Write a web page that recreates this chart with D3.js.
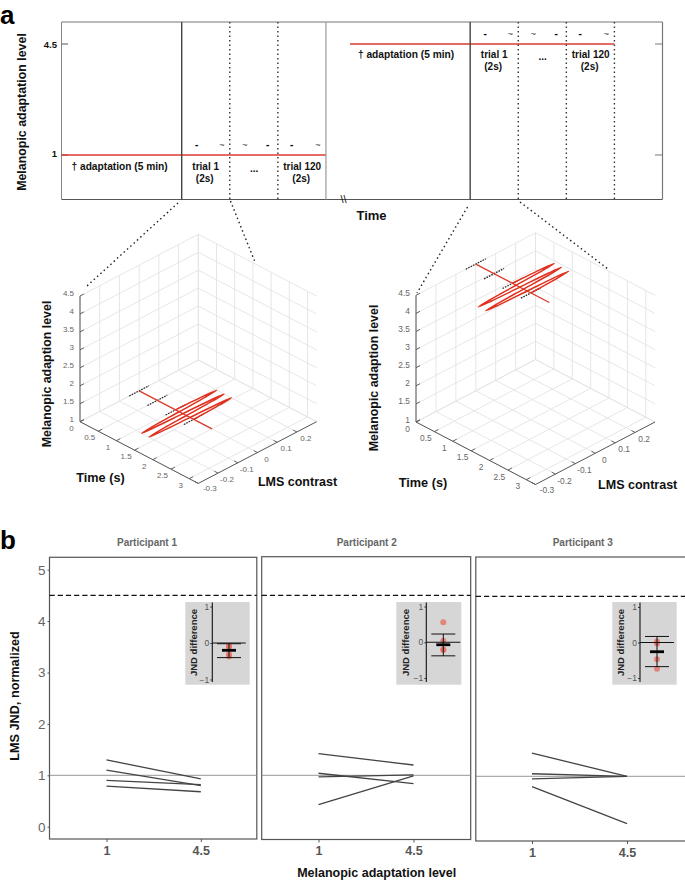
<!DOCTYPE html>
<html>
<head>
<meta charset="utf-8">
<script src="https://cdn.jsdelivr.net/npm/d3@7"></script>
<style>
	body { margin: 0; background: #fff; }
	text { font-family: "Liberation Sans", Arial, sans-serif; }
</style>
</head>
<body>
<div id="chart"></div>
<script>

// panel a: schedule, in schematic time units
let adaptStart		= [0, 288],
	trialStart		= [120, 408],
	trialBounds		= [48, 96, 144],
	levels			= [1, 4.5],
	levelLabels		= ["1", "4.5"],
	stimulusOffsets	= [15, 40, 63, 86, 110, 136],
	stimulusGlyphs	= ["-", "~", "~", "-", "-", "~"];

// panel a: 3D axes
let timeTicks		= [0, 0.5, 1, 1.5, 2, 2.5, 3],
	contrastTicks	= [-0.3, -0.2, -0.1, 0, 0.1, 0.2, 0.3],
	contrastLabels	= [-0.3, -0.2, -0.1, 0, 0.1, 0.2],
	levelTicks		= [1, 1.5, 2, 2.5, 3, 3.5, 4, 4.5];

// panel a: one trial, stimulus trace
let baselineTime	= [0, 2],
	baselineContrast= [0, 0],
	flickerTime		= [1, 1.025, 1.05, 1.075, 1.1, 1.125, 1.15, 1.175, 1.2, 1.225, 1.25, 1.275, 1.3, 1.325, 1.35, 1.375, 1.4, 1.425, 1.45, 1.475, 1.5],
	flickerContrast	= [0, 0.14, 0.2, 0.14, 0, -0.14, -0.2, -0.14, 0, 0.14, 0.2, 0.14, 0, -0.14, -0.2, -0.14, 0, 0.14, 0.2, 0.14, 0],
	referenceTimes	= [0, 0.5, 1, 1.5],
	referenceHalf	= 0.05;

// panel b
let participants	= ["Participant 1", "Participant 2", "Participant 3"],
	jndLow			= [[1.30, 1.10, 0.90, 0.79], [1.42, 1.04, 0.97, 0.43], [1.45, 1.05, 0.95, 0.80]],
	jndHigh			= [[0.93, 0.80, 0.82, 0.68], [1.20, 0.84, 1.01, 0.99], [1.00, 1.00, 1.00, 0.08]],
	jndTicks		= [0, 1, 2, 3, 4, 5],
	diffPoints		= [[-0.37, -0.30, -0.08, -0.11], [-0.22, -0.20, 0.04, 0.56], [-0.47, -0.03, 0.03, -0.74]],
	diffMean		= [-0.20, -0.07, -0.26],
	diffUpper		= [-0.02, 0.23, 0.17],
	diffLower		= [-0.40, -0.38, -0.68],
	diffTicks		= [-1, 0, 1];

let svg = d3.select("#chart")
	.append("svg")
		.attr("width", 685)
		.attr("height", 882);

function label (x, y, txt, size, opts) {
	opts = opts || {};
	let t = svg.append("text")
		.attr("x", x)
		.attr("y", y)
		.attr("text-anchor", opts.anchor || "middle")
		.attr("dominant-baseline", "central")
		.attr("font-size", size)
		.attr("font-weight", opts.weight || "bold")
		.attr("fill", opts.fill || "#111")
		.text(txt);
	if (opts.rotate) {
		t.attr("transform", "rotate(-90," + x + "," + y + ")");
	}
	return t;
}

function seg (x1, y1, x2, y2, color, width, dash) {
	return svg.append("line")
		.attr("x1", x1).attr("y1", y1)
		.attr("x2", x2).attr("y2", y2)
		.attr("stroke", color)
		.attr("stroke-width", width)
		.attr("stroke-dasharray", dash || null);
}

// panel a, schedule /////////////////////////////////////////////////

function drawSchedule () {

	let xTime = d3.scaleLinear().domain([0, 600]).range([61.5, 662.5]),
		yLevel = d3.scaleLinear().domain([1, 4.5]).range([155, 44]);

	let top = 22, bottom = 199.5;

	label(0, 15, "a", 26, {anchor: "start", fill: "#000"});

	seg(xTime(0), top, xTime(600), top, "#777", 1.2);
	seg(xTime(0), bottom, xTime(600), bottom, "#555", 1.2);
	seg(xTime(0), top, xTime(0), bottom, "#888", 1);
	seg(xTime(600), top, xTime(600), bottom, "#777", 1.2);

	label(22, 112, "Melanopic adaptation level", 12.4, {rotate: true});
	label(371.5, 215, "Time", 13);
	label(343.5, 198.5, "\\\\", 11, {weight: "normal"});

	levels.forEach(function (lv, i) {
		seg(62, yLevel(lv), 68, yLevel(lv), "#555", 1);
		seg(655, yLevel(lv), 662, yLevel(lv), "#777", 1);
		label(57, yLevel(lv) - (i == 0 ? 2 : 0), levelLabels[i], 9.5, {anchor: "end"});
	});

	adaptStart.forEach(function (start, i) {

		let t0 = trialStart[i],
			yRed = yLevel(levels[i]),
			yText = yRed + 11 - (i == 1 ? 1 : 0);

		seg(xTime(start), yRed, xTime(t0 + trialBounds[2]), yRed, "#dc3b30", i == 0 ? 1.6 : 1.3);

		seg(xTime(t0), top, xTime(t0), bottom, "#444", 1.4);
		trialBounds.forEach(function (b, j) {
			if (i == 0 && j == 2) {
				seg(xTime(t0 + b), top, xTime(t0 + b), bottom, "#999", 1.2);
			} else {
				seg(xTime(t0 + b), top, xTime(t0 + b), bottom, "#333", 1.4, "1.5 3");
			}
		});

		stimulusOffsets.forEach(function (off, j) {
			let isDash = stimulusGlyphs[j] == "-";
			label(xTime(t0) + off, yRed - (i == 0 ? 11 : 10.5), stimulusGlyphs[j], isDash ? 10 : 9.5,
				{weight: isDash ? "bold" : "normal", fill: isDash ? "#000" : "#444"});
		});

		label((xTime(start) + xTime(t0)) / 2 + (i == 0 ? -2 : -4) , yText, "† adaptation (5 min)", 10.2);
		label(xTime(t0) + 24, yText, "trial 1", 10);
		label(xTime(t0) + 23, yText + 12.5, "(2s)", 10);
		label(xTime(t0) + 72.5, yText + 2, "...", 10);
		label(xTime(t0) + 120.5, yText, "trial 120", 10);
		label(xTime(t0) + 119.5, yText + 12.5, "(2s)", 10);
	});

	// zoom connectors
	seg(178, 203, 87, 286, "#222", 1.4, "1.5 3");
	seg(230.5, 201, 255, 262, "#222", 1.4, "1.5 3");
	seg(467.5, 207, 417, 293, "#222", 1.4, "1.5 3");
	seg(520, 202, 608, 269, "#222", 1.4, "1.5 3");
}

// panel a, 3D trial plots ///////////////////////////////////////////

function draw3d (cfg) {

	let xT = d3.scaleLinear().domain([0, 3.25]).range([0, 1]),
		xC = d3.scaleLinear().domain([-0.3, 0.3]).range([0, 1]),
		yM = d3.scaleLinear().domain([1, 4.5]).range([0, cfg.h]);

	function project (t, c, m) {
		let a = xT(t), b = xC(c);
		return [
			cfg.ox + (a + b) * cfg.dx,
			cfg.oy + (a - b) * cfg.dy - yM(m)
		];
	}

	function edge (p, q, color, width, dash) {
		let a = project(p[0], p[1], p[2]),
			b = project(q[0], q[1], q[2]);
		return seg(a[0], a[1], b[0], b[1], color, width, dash);
	}

	let grid = "#e3e3e3", axis = "#555", tMax = 3.25, cMin = -0.3, cMax = 0.3;

	// walls and floor
	levelTicks.forEach(function (m) {
		edge([0, cMin, m], [0, cMax, m], grid, 0.9);
		edge([0, cMax, m], [tMax, cMax, m], grid, 0.9);
	});
	contrastTicks.forEach(function (c) {
		edge([0, c, 1], [tMax, c, 1], grid, 0.9);
		edge([0, c, 1], [0, c, 4.5], grid, 0.9);
	});
	timeTicks.forEach(function (t) {
		edge([t, cMin, 1], [t, cMax, 1], grid, 0.9);
		edge([t, cMax, 1], [t, cMax, 4.5], grid, 0.9);
	});

	// axes
	edge([0, cMin, 1], [0, cMin, 4.5], axis, 1);
	edge([0, cMin, 1], [tMax, cMin, 1], axis, 1);
	edge([tMax, cMin, 1], [tMax, cMax, 1], axis, 1);

	levelTicks.forEach(function (m) {
		edge([0, cMin, m], [0, cMin + 0.02, m], axis, 0.9);
		let p = project(0, cMin, m);
		label(p[0] - 6, p[1] - 2.5, String(m), cfg.tickSize, {anchor: "end", weight: "normal", fill: "#666"});
	});
	timeTicks.forEach(function (t) {
		edge([t, cMin, 1], [t, cMin + 0.02, 1], axis, 0.9);
		let p = project(t, cMin, 1);
		label(p[0] - 8.5, p[1] + 6.5, String(t), cfg.tickSize, {weight: "normal", fill: "#666"});
	});
	contrastTicks.slice(0, -1).forEach(function (c) {
		edge([tMax, c, 1], [tMax - 0.1, c, 1], axis, 0.9);
	});
	contrastLabels.forEach(function (c, i) {
		let p = project(tMax, c, 1);
		label(p[0] + (i == 0 ? 11.5 : 9), p[1] + (i == 0 ? 5.5 : 6.5), String(c), cfg.tickSize, {weight: "normal", fill: "#666"});
	});

	// trace
	let line = d3.line()
		.x(function (d) { return project(d[0], d[1], cfg.level)[0]; })
		.y(function (d) { return project(d[0], d[1], cfg.level)[1]; });

	referenceTimes.forEach(function (t) {
		edge([t, -referenceHalf, cfg.level], [t, referenceHalf, cfg.level], "#222", 1.3, "1.6 1.1");
	});

	svg.append("path")
		.attr("d", line(baselineTime.map(function (t, i) { return [t, baselineContrast[i]]; })))
		.attr("fill", "none")
		.attr("stroke", "#dd3a2a")
		.attr("stroke-width", 1.3);

	svg.append("path")
		.attr("d", line.curve(d3.curveCatmullRom)(flickerTime.map(function (t, i) { return [t, flickerContrast[i]]; })))
		.attr("fill", "none")
		.attr("stroke", "#e0301e")
		.attr("stroke-width", 1.5);

	label(cfg.ylabelX, cfg.ylabelY, "Melanopic adaption level", 12.4, {rotate: true});
	label(cfg.timeX, cfg.timeY, "Time (s)", 12.7);
	label(cfg.lmsX, cfg.lmsY, "LMS contrast", 12.5);
}

// panel b ///////////////////////////////////////////////////////////

let panelFrames = [
	{x0: 49.5, x1: 256.8, y0: 557.3, y1: 839, xa: 106.5, xb: 200.8, one: 775.3, unit: 51.4, title: 147},
	{x0: 261.7, x1: 470.7, y0: 556.7, y1: 839.5, xa: 318.5, xb: 413.5, one: 775.3, unit: 51.4, title: 366.7},
	{x0: 475.8, x1: 686, y0: 557, y1: 841, xa: 532, xb: 627, one: 776.3, unit: 51.4, title: 582.7}
];

let insetFrames = [
	{x0: 185.3, x1: 249.7, axisX: 212.3, lineEnd: 245.7, cx: 229, capHalf: 12, meanHalf: 7, yTop: 606.5, yBottom: 679.5, labelX: 193, tickX: 207},
	{x0: 396.3, x1: 461.3, axisX: 426.3, lineEnd: 460.3, cx: 443.3, capHalf: 12, meanHalf: 7, yTop: 606.5, yBottom: 678, labelX: 405, tickX: 421},
	{x0: 612.3, x1: 676.7, axisX: 640, lineEnd: 674, cx: 657, capHalf: 12, meanHalf: 7, yTop: 607, yBottom: 678, labelX: 620, tickX: 635}
];

function drawParticipant (idx) {

	let f = panelFrames[idx];

	let yJnd = d3.scaleLinear()
		.domain([0, 5])
		.range([f.one + f.unit, f.one - 4 * f.unit]);

	let xLevel = d3.scalePoint()
		.domain(levelLabels)
		.range([f.xa, f.xb]);

	svg.append("rect")
		.attr("x", f.x0).attr("y", f.y0)
		.attr("width", f.x1 - f.x0).attr("height", f.y1 - f.y0)
		.attr("fill", "none")
		.attr("stroke", "#555")
		.attr("stroke-width", 1.2);

	label(f.title, 542, participants[idx], 10, {fill: "#666"});

	seg(f.x0, yJnd(1), f.x1, yJnd(1), "#8a8a8a", 0.9);
	seg(f.x0, yJnd(4.5), f.x1, yJnd(4.5), "#111", 1.1, "5.2 3");

	// bottom axis
	let xAxis = svg.append("g")
		.attr("transform", "translate(0," + f.y1 + ")")
		.call(d3.axisBottom(xLevel).tickSize(3).tickPadding(4));
	xAxis.select(".domain").remove();
	xAxis.selectAll("line").attr("stroke", "#555");
	xAxis.selectAll("text")
		.attr("font-size", 12.5)
		.attr("font-weight", "bold")
		.attr("fill", "#555")
		.style("font-family", "'Liberation Sans', Arial, sans-serif");

	if (idx == 0) {
		let yAxis = svg.append("g")
			.attr("transform", "translate(" + f.x0 + ",0)")
			.call(d3.axisLeft(yJnd).tickValues(jndTicks).tickSize(2).tickPadding(2).tickFormat(d3.format("d")));
		yAxis.select(".domain").remove();
		yAxis.selectAll("line").attr("stroke", "#555");
		yAxis.selectAll("text")
			.attr("font-size", 13.5)
			.attr("fill", "#666")
			.style("font-family", "'Liberation Sans', Arial, sans-serif");
	}

	// participant lines
	let jndLine = d3.line()
		.x(function (d) { return xLevel(d[0]); })
		.y(function (d) { return yJnd(d[1]); });

	jndLow[idx].forEach(function (v, i) {
		svg.append("path")
			.attr("d", jndLine([[levelLabels[0], v], [levelLabels[1], jndHigh[idx][i]]]))
			.attr("fill", "none")
			.attr("stroke", "#444")
			.attr("stroke-width", 1.3);
	});

	drawInset(idx);
}

function drawInset (idx) {

	let f = insetFrames[idx],
		yDiff = d3.scaleLinear().domain([-1, 1]).range([f.yBottom, f.yTop]);

	svg.append("rect")
		.attr("x", f.x0).attr("y", 602)
		.attr("width", f.x1 - f.x0).attr("height", 82.7)
		.attr("fill", "#d6d6d6");

	label(f.labelX, 642.5, "JND difference", 9.5, {rotate: true, fill: "#222"});

	let diffAxis = svg.append("g")
		.attr("transform", "translate(" + f.axisX + ",0)")
		.call(d3.axisLeft(yDiff).tickValues(diffTicks).tickSize(2).tickPadding(1).tickFormat(d3.format("d")));
	diffAxis.select(".domain").remove();
	diffAxis.selectAll("line").attr("stroke", "#444");
	diffAxis.selectAll("text")
		.attr("font-size", 8.5)
		.attr("fill", "#555")
		.style("font-family", "'Liberation Sans', Arial, sans-serif");

	svg.selectAll(null)
		.data(diffPoints[idx])
		.enter()
		.append("circle")
			.attr("cx", f.cx)
			.attr("cy", function (d) { return yDiff(d); })
			.attr("r", 3)
			.attr("fill", "#e8685c")
			.attr("fill-opacity", 0.75);

	seg(f.axisX, 602.5, f.axisX, 682, "#111", 1.1);
	seg(f.axisX, yDiff(0), f.lineEnd, yDiff(0), "#111", 1.1);

	seg(f.cx, yDiff(diffUpper[idx]), f.cx, yDiff(diffLower[idx]), "#111", 1);
	seg(f.cx - f.capHalf, yDiff(diffUpper[idx]), f.cx + f.capHalf, yDiff(diffUpper[idx]), "#111", 1);
	seg(f.cx - f.capHalf, yDiff(diffLower[idx]), f.cx + f.capHalf, yDiff(diffLower[idx]), "#111", 1);
	seg(f.cx - f.meanHalf, yDiff(diffMean[idx]), f.cx + f.meanHalf, yDiff(diffMean[idx]), "#000", 2.8);
}

function init () {

	drawSchedule();

	draw3d({ox: 80, oy: 421.7, dx: 118.3, dy: 61.7, h: 125.7, level: 1, tickSize: 8,
		ylabelX: 47.3, ylabelY: 374, timeX: 100.5, timeY: 478, lmsX: 297.5, lmsY: 481.7});

	draw3d({ox: 416, oy: 422, dx: 119.5, dy: 62.5, h: 126.7, level: 4.5, tickSize: 8.4,
		ylabelX: 374.3, ylabelY: 378, timeX: 423, timeY: 483.3, lmsX: 637.7, lmsY: 485});

	label(0, 540, "b", 26, {anchor: "start", fill: "#000"});

	participants.forEach(function (p, i) {
		drawParticipant(i);
	});

	label(15, 696, "LMS JND, normalized", 12.7, {rotate: true});
	label(376.7, 873, "Melanopic adaptation level", 12.5);
}

init();

</script>
</body>
</html>
